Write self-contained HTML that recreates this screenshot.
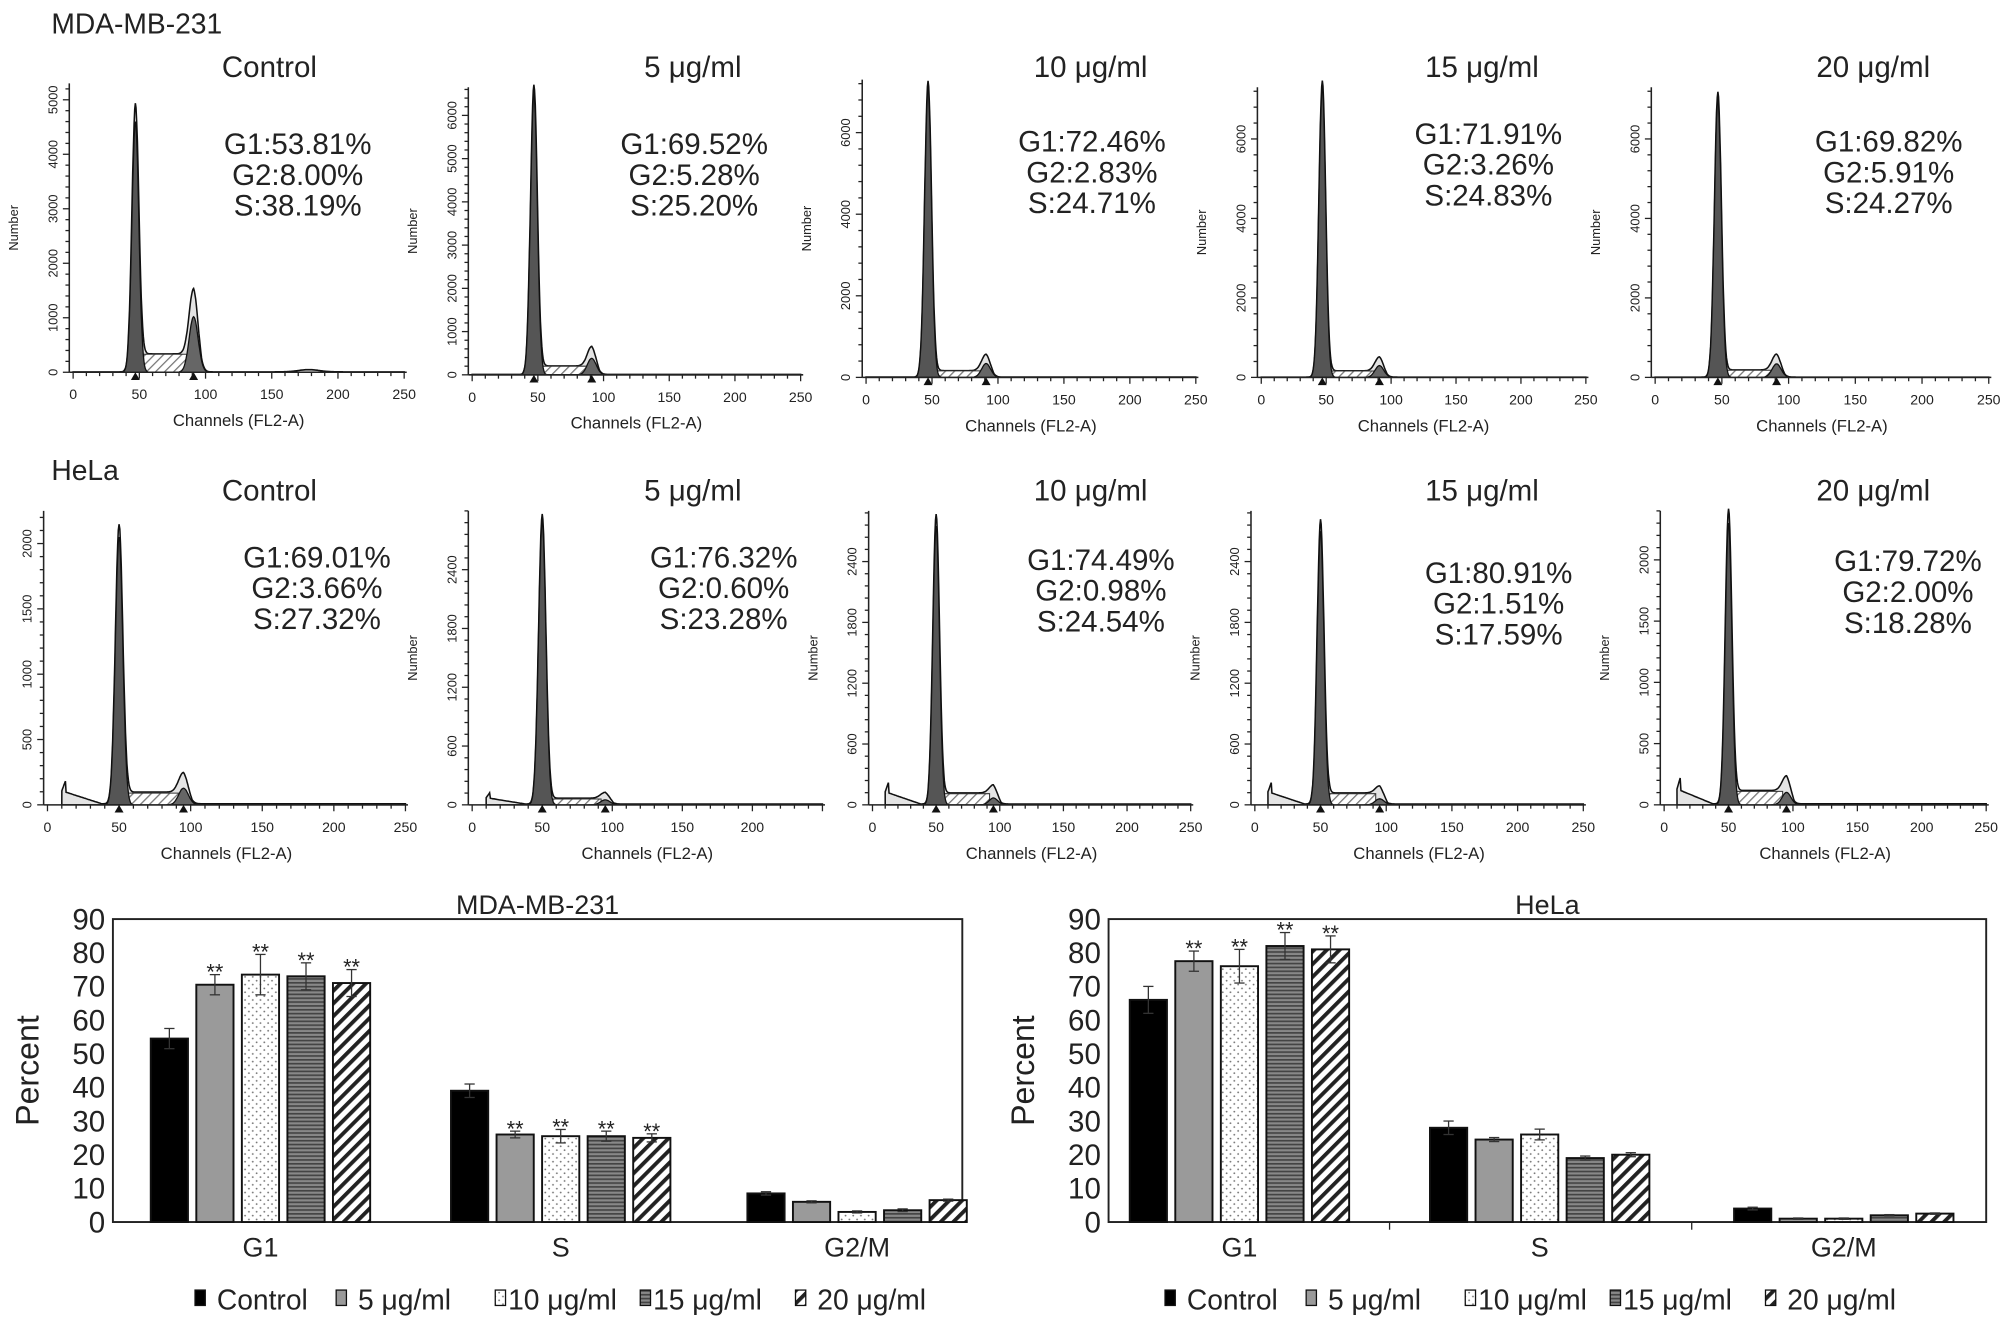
<!DOCTYPE html>
<html><head><meta charset="utf-8"><style>
html,body{margin:0;padding:0;background:#fff}
svg{display:block}
text{font-family:"Liberation Sans",sans-serif;fill:#222}
</style></head><body>
<svg id="fig" width="2008" height="1326" viewBox="0 0 1565 1033" preserveAspectRatio="none" xmlns="http://www.w3.org/2000/svg">
<defs>
<pattern id="pDot" width="6" height="6" patternUnits="userSpaceOnUse"><rect width="6" height="6" fill="#fff"/><circle cx="2" cy="2" r="0.7" fill="#777"/><circle cx="5" cy="5" r="0.7" fill="#777"/></pattern>
<pattern id="pHor" width="4" height="3" patternUnits="userSpaceOnUse"><rect width="4" height="3" fill="#888"/><rect width="4" height="1.3" fill="#444"/></pattern>
<pattern id="pDiag" width="7" height="7" patternUnits="userSpaceOnUse" patternTransform="rotate(45)"><rect width="7" height="7" fill="#fff"/><rect width="3" height="7" fill="#222"/></pattern>
<pattern id="pHatch" width="5" height="5" patternUnits="userSpaceOnUse" patternTransform="rotate(45)"><rect width="5" height="5" fill="#fff"/><rect width="1" height="5" fill="#777"/></pattern>
</defs>
</svg>
<script>
// ===== bar chart data =====
const phases = ["G1","S","G2/M"];
const doses = ["Control","5 μg/ml","10 μg/ml","15 μg/ml","20 μg/ml"];
const yTicks = [0,10,20,30,40,50,60,70,80,90];
const mdaG1 = [54.5,70.5,73.5,73,71];
const mdaS = [39,26,25.5,25.5,25];
const mdaG2 = [8.5,6,3,3.5,6.5];
const mdaG1Err = [3,3,6,4,4];
const mdaSErr = [2,1,2,1.5,1.2];
const mdaG2Err = [0.5,0.3,0.3,0.4,0.3];
const mdaSig = [[0,1,1,1,1],[0,1,1,1,1],[0,0,0,0,0]];
const helaG1 = [66,77.5,76,82,81];
const helaS = [28,24.5,26,19,20];
const helaG2 = [4,1,1,2,2.5];
const helaG1Err = [4,3,5,4,4];
const helaSErr = [2,0.6,1.6,0.6,0.6];
const helaG2Err = [0.4,0.2,0.2,0.2,0.2];
const helaSig = [[0,1,1,1,1],[0,0,0,0,0],[0,0,0,0,0]];

// ===== histogram data =====
const histTitles = ["Control","5 μg/ml","10 μg/ml","15 μg/ml","20 μg/ml"];
const mdaStats = [["G1:53.81%","G2:8.00%","S:38.19%"],["G1:69.52%","G2:5.28%","S:25.20%"],["G1:72.46%","G2:2.83%","S:24.71%"],["G1:71.91%","G2:3.26%","S:24.83%"],["G1:69.82%","G2:5.91%","S:24.27%"]];
const helaStats = [["G1:69.01%","G2:3.66%","S:27.32%"],["G1:76.32%","G2:0.60%","S:23.28%"],["G1:74.49%","G2:0.98%","S:24.54%"],["G1:80.91%","G2:1.51%","S:17.59%"],["G1:79.72%","G2:2.00%","S:18.28%"]];
const mdaG1Peak = [4600,6500,7100,7300,7000];
const mdaG2Peak = [1200,450,400,350,400];
const mdaSLevel = [330,200,160,160,180];
const helaG1Peak = [2050,2900,2750,2700,2300];
const helaG2Peak = [150,60,80,70,120];
const helaSLevel = [90,60,110,110,110];
const mdaYTicks = [[0,1000,2000,3000,4000,5000],[0,1000,2000,3000,4000,5000,6000],[0,2000,4000,6000],[0,2000,4000,6000],[0,2000,4000,6000]];
const helaYTicks = [[0,500,1000,1500,2000],[0,600,1200,1800,2400],[0,600,1200,1800,2400],[0,600,1200,1800,2400],[0,500,1000,1500,2000]];
const xTicks = [0,50,100,150,200,250];

const svg = document.getElementById('fig');
const NS = "http://www.w3.org/2000/svg";
function mk(tag, attrs, parent, txt){
  const e = document.createElementNS(NS, tag);
  for (const k in attrs) e.setAttribute(k, attrs[k]);
  if (txt !== undefined) e.textContent = txt;
  (parent||svg).appendChild(e);
  return e;
}

const topLayout = [
 {x0:57,x1:315,base:290,top:65,topVal:5300,sx:232,sy:112,tx:210},
 {x0:368,x1:624,base:292,top:68,topVal:6650,sx:541,sy:112,tx:540},
 {x0:675,x1:932,base:294,top:62,topVal:7300,sx:851,sy:110,tx:850},
 {x0:983,x1:1236,base:294,top:68,topVal:7300,sx:1160,sy:104,tx:1155},
 {x0:1290,x1:1550,base:294,top:68,topVal:7300,sx:1472,sy:110,tx:1460}];
const botLayout = [
 {x0:37,x1:316,base:627,top:398,topVal:2250,sx:247,sy:434,tx:210},
 {x0:368,x1:641,base:627,top:398,topVal:3000,sx:564,sy:434,tx:540},
 {x0:680,x1:928,base:627,top:398,topVal:2900,sx:858,sy:436,tx:850},
 {x0:978,x1:1234,base:627,top:398,topVal:2900,sx:1168,sy:446,tx:1155},
 {x0:1297,x1:1548,base:627,top:398,topVal:2400,sx:1487,sy:437,tx:1460}];

function gauss(c, m, s){ return Math.exp(-0.5*((c-m)/s)*((c-m)/s)); }

function drawHist(L, i, row, g1, g2, sl, ticks, stats, g1c, g2c){
  const g = mk('g', {}, svg);
  
  
  const X = c => L.x0 + (L.x1-L.x0)*c/250;
  const Y = v => L.base - (L.base-L.top)*v/L.topVal;
  const ax = L.x0 - 3;
  let tot="", p1="", p2="", ps="";
  const startC = row==='hela' ? 10 : 0;
  for (let c=startC;c<=250;c+=0.5){
    const sv = (c>g1c && c<g2c) ? sl : sl*Math.max(0,1-Math.min(Math.abs(c-g1c),Math.abs(c-g2c))/6);
    let debris = 0;
    if (row==='hela') debris = sl*1.1*Math.max(0,(38-c)/28) + (c<13 ? sl*1.1*(c-10)/3 : 0);
    if (row==='mda' && i===0) debris = 40*gauss(c,178,8);
    const v = g1*gauss(c,g1c,2.6) + g2*gauss(c,g2c,3.4) + sv + debris + 8;
    tot += (tot?"L":"M")+X(c).toFixed(1)+","+Y(v).toFixed(1);
  }
  tot += "L"+X(250)+","+L.base+"L"+X(startC)+","+L.base+"Z";
  for (let c=g1c-10;c<=g1c+10;c+=0.5) p1 += (p1?"L":"M")+X(c).toFixed(1)+","+Y(g1*gauss(c,g1c,2.6)).toFixed(1);
  for (let c=g2c-12;c<=g2c+12;c+=0.5) p2 += (p2?"L":"M")+X(c).toFixed(1)+","+Y(g2*gauss(c,g2c,3.4)*0.85).toFixed(1);
  ps = "M"+X(g1c+3)+","+L.base+"L"+X(g1c+3)+","+Y(sl)+"L"+X(g2c-3)+","+Y(sl)+"L"+X(g2c-3)+","+L.base+"Z";
  mk('path',{d:tot,fill:"#e4e4e4",stroke:"#111","stroke-width":1.2},g);
  mk('path',{d:ps,fill:"url(#pHatch)",stroke:"#333","stroke-width":0.8},g);
  mk('path',{d:p1+"Z",fill:"#555",stroke:"#111","stroke-width":1},g);
  mk('path',{d:p2+"Z",fill:"#666",stroke:"#111","stroke-width":1},g);
  mk('line',{x1:ax,y1:L.top,x2:ax,y2:L.base,stroke:"#222","stroke-width":1.2},g);
  mk('line',{x1:ax,y1:L.base,x2:L.x1+2,y2:L.base,stroke:"#222","stroke-width":1.2},g);
  for (let v=0; v<=L.topVal; v+= (ticks[1]-ticks[0])/5){
    const maj = ticks.indexOf(Math.round(v))>=0;
    mk('line',{x1:ax-(maj?5:3),y1:Y(v),x2:ax,y2:Y(v),stroke:"#222","stroke-width":1},g);
  }
  ticks.forEach(t=>{
    const tl = mk('text',{x:ax-12,y:Y(t),"font-size":10,"text-anchor":"middle",transform:`rotate(-90 ${ax-12} ${Y(t)})`,"dominant-baseline":"middle"},g,String(t));
    
    
  });
  for (let c=0;c<=250;c+=10){
    const maj = c%50===0;
    mk('line',{x1:X(c),y1:L.base,x2:X(c),y2:L.base+(maj?5:3),stroke:"#222","stroke-width":1},g);
  }
  xTicks.forEach(t=>{
    if (row==='hela' && i===1 && t===250) return;
    const tl = mk('text',{x:X(t),y:L.base+21,"font-size":11,"text-anchor":"middle"},g,String(t));
    
    
  });
  [g1c,g2c].forEach(c=>mk('path',{d:`M${X(c)-3.5},${L.base+6}L${X(c)+3.5},${L.base+6}L${X(c)},${L.base}Z`,fill:"#111"},g));
  const xl = mk('text',{x:(L.x0+L.x1)/2,y:L.base+42,"font-size":13,"text-anchor":"middle"},g,"Channels (FL2-A)");
  
  
  const yl = mk('text',{x:ax-40,y:(L.top+L.base)/2,"font-size":10,"text-anchor":"middle",transform:`rotate(-90 ${ax-40} ${(L.top+L.base)/2})`},g,"Number");
  
  
  const tt = mk('text',{x:L.tx,y:row==='mda'?60:390,"font-size":23,"text-anchor":"middle"},g,histTitles[i]);
  
  
  stats.forEach((s,k)=>{
    const st = mk('text',{x:L.sx,y:L.sy+k*24+8,"font-size":23,"text-anchor":"middle"},g,s);
    
    
  });
}

const h1 = mk('text',{x:40,y:26,"font-size":22},svg,"MDA-MB-231");


const h2 = mk('text',{x:40,y:374,"font-size":22},svg,"HeLa");



for (let i=0;i<5;i++){
  drawHist(topLayout[i], i, 'mda', mdaG1Peak[i], mdaG2Peak[i], mdaSLevel[i], mdaYTicks[i], mdaStats[i], 47, 91);
  drawHist(botLayout[i], i, 'hela', helaG1Peak[i], helaG2Peak[i], helaSLevel[i], helaYTicks[i], helaStats[i], 50, 95);
}

// ===== bar charts =====
const fills = ["#000","#9a9a9a","url(#pDot)","url(#pHor)","url(#pDiag)"];
const legendOffsets = [0,110,234,347,468];
function drawBars(cfg){
  const g = mk('g',{},svg);
  
  
  const Y = v => cfg.bottom - (cfg.bottom-cfg.top)*v/90;
  mk('rect',{x:cfg.left,y:cfg.top,width:cfg.right-cfg.left,height:cfg.bottom-cfg.top,fill:"none",stroke:"#222","stroke-width":1.5},g);
  yTicks.forEach(t=>{
    const tl = mk('text',{x:cfg.left-6,y:Y(t)+8,"font-size":23,"text-anchor":"end"},g,String(t));
    
    
  });
  const ttl = mk('text',{x:(cfg.left+cfg.right)/2,y:cfg.top-4,"font-size":21,"text-anchor":"middle"},g,cfg.title);
  
  
  const yt = mk('text',{x:cfg.left-58,y:(cfg.top+cfg.bottom)/2,"font-size":25,"text-anchor":"middle",transform:`rotate(-90 ${cfg.left-58} ${(cfg.top+cfg.bottom)/2})`},g,"Percent");
  
  
  const series = [cfg.g1, cfg.s, cfg.g2];
  const errs = [cfg.g1e, cfg.se, cfg.g2e];
  phases.forEach((p,pi)=>{
    const cx = cfg.centers[pi];
    if (pi>0 && cfg.dividers) {
      const dx = (cfg.centers[pi-1]+cx)/2;
      mk('line',{x1:dx,y1:cfg.bottom,x2:dx,y2:cfg.bottom+6,stroke:"#222","stroke-width":1},g);
    }
    const cl = mk('text',{x:cx,y:cfg.bottom+27,"font-size":21,"text-anchor":"middle"},g,p);
    
    
    series[pi].forEach((v,di)=>{
      const bx = cx + (di-2)*35.5 - 14.5;
      const r = mk('rect',{x:bx,y:Y(v),width:29,height:cfg.bottom-Y(v),fill:fills[di],stroke:"#111","stroke-width":1.5},g);
      
      
      const e = errs[pi][di], mx = bx+14.5;
      mk('line',{x1:mx,y1:Y(v+e),x2:mx,y2:Y(v-e),stroke:"#333","stroke-width":1},g);
      mk('line',{x1:mx-4,y1:Y(v+e),x2:mx+4,y2:Y(v+e),stroke:"#333","stroke-width":1},g);
      mk('line',{x1:mx-4,y1:Y(v-e),x2:mx+4,y2:Y(v-e),stroke:"#333","stroke-width":1},g);
      if (cfg.sig[pi][di]){
        const s = mk('text',{x:mx,y:Y(v+e)+4,"font-size":17,"text-anchor":"middle"},g,"**");
        
        
      }
    });
  });
  doses.forEach((d,di)=>{
    const lx = cfg.legendX + legendOffsets[di];
    const lg = mk('g',{},g);
    
    
    mk('rect',{x:lx,y:1005,width:8,height:12,fill:fills[di],stroke:"#111","stroke-width":1},lg);
    mk('text',{x:lx+(di===2||di===3?10:17),y:1020,"font-size":22},lg,d);
  });
}
drawBars({name:'mda-bar-chart',title:'MDA-MB-231',left:88,right:750,top:716,bottom:952,centers:[203,437,668],dividers:false,legendX:152,
  g1:mdaG1,s:mdaS,g2:mdaG2,g1e:mdaG1Err,se:mdaSErr,g2e:mdaG2Err,sig:mdaSig});
drawBars({name:'hela-bar-chart',title:'HeLa',left:864,right:1548,top:716,bottom:952,centers:[966,1200,1437],dividers:true,legendX:908,
  g1:helaG1,s:helaS,g2:helaG2,g1e:helaG1Err,se:helaSErr,g2e:helaG2Err,sig:helaSig});
</script>
</body></html>
